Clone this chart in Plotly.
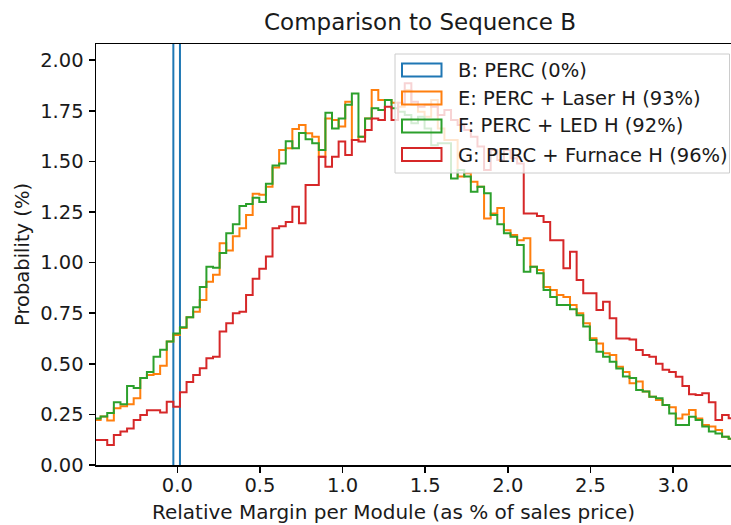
import numpy as np
import plotly.graph_objects as go

# ---- data (bin heights in %, bins of width 0.04 starting at -0.504) ----
bin_start = -0.504
bin_width = 0.04

b_perc = [100.0]          # single bin
b_start = -0.024

e_laser = [0.222, 0.24, 0.22, 0.28, 0.29, 0.30, 0.33, 0.43, 0.445, 0.45, 0.49, 0.61,
           0.642, 0.677, 0.73, 0.757, 0.815, 0.905, 0.94, 1.095, 1.06, 1.13, 1.17, 1.235,
           1.34, 1.335, 1.375, 1.47, 1.556, 1.565, 1.66, 1.68, 1.639, 1.622, 1.523, 1.712,
           1.704, 1.672, 1.795, 1.606, 1.622, 1.712, 1.853, 1.803, 1.803, 1.79, 1.77, 1.853,
           1.78, 1.745, 1.72, 1.803, 1.663, 1.606, 1.606, 1.425, 1.441, 1.4, 1.375, 1.218,
           1.243, 1.27, 1.16, 1.136, 1.111, 1.12, 0.98, 0.963, 0.88, 0.865, 0.84, 0.83,
           0.79, 0.75, 0.70, 0.626, 0.60, 0.552, 0.543, 0.486, 0.46, 0.404, 0.412, 0.363,
           0.337, 0.321, 0.296, 0.285, 0.23, 0.25, 0.272, 0.23, 0.198, 0.19, 0.173, 0.14, 0.13]

f_led = [0.23, 0.24, 0.257, 0.31, 0.30, 0.39, 0.38, 0.43, 0.46, 0.535, 0.57, 0.61,
         0.65, 0.68, 0.73, 0.78, 0.88, 0.98, 0.975, 1.047, 1.145, 1.19, 1.28, 1.29,
         1.32, 1.30, 1.39, 1.48, 1.49, 1.60, 1.565, 1.64, 1.61, 1.59, 1.556, 1.74,
         1.663, 1.712, 1.78, 1.836, 1.622, 1.712, 1.762, 1.754, 1.803, 1.762, 1.745, 1.729,
         1.688, 1.72, 1.663, 1.58, 1.59, 1.59, 1.416, 1.457, 1.425, 1.35, 1.375, 1.342,
         1.235, 1.19, 1.145, 1.128, 1.087, 0.955, 0.98, 0.947, 0.865, 0.83, 0.79, 0.79,
         0.77, 0.74, 0.684, 0.618, 0.56, 0.535, 0.51, 0.477, 0.437, 0.43, 0.37, 0.363,
         0.337, 0.33, 0.296, 0.255, 0.198, 0.198, 0.239, 0.222, 0.19, 0.165, 0.156, 0.14, 0.13]

g_furnace = [0.124, 0.124, 0.099, 0.148, 0.165, 0.18, 0.222, 0.247, 0.27, 0.27, 0.26, 0.313,
             0.288, 0.36, 0.41, 0.445, 0.478, 0.527, 0.535, 0.66, 0.70, 0.75, 0.757, 0.84,
             0.92, 0.97, 1.03, 1.17, 1.18, 1.20, 1.276, 1.195, 1.383, 1.383, 1.523, 1.474,
             1.523, 1.598, 1.532, 1.606, 1.598, 1.655, 1.712, 1.704, 1.77, 1.704, 1.79, 1.886,
             1.795, 1.77, 1.78, 1.77, 1.729, 1.754, 1.704, 1.68, 1.655, 1.622, 1.573, 1.457,
             1.556, 1.507, 1.556, 1.515, 1.49, 1.243, 1.243, 1.23, 1.20, 1.111, 1.111, 0.972,
             1.054, 0.914, 0.848, 0.848, 0.766, 0.807, 0.725, 0.625, 0.625, 0.62, 0.568, 0.544,
             0.535, 0.50, 0.47, 0.46, 0.436, 0.39, 0.35, 0.346, 0.354, 0.31, 0.222, 0.247, 0.231]

labels = ["B: PERC (0%)", "E: PERC + Laser H (93%)", "F: PERC + LED H (92%)",
          "G: PERC + Furnace H (96%)"]
colors = ["#1f77b4", "#ff7f0e", "#2ca02c", "#d62728"]

x_ticks = [0.0, 0.5, 1.0, 1.5, 2.0, 2.5, 3.0]
y_ticks = [0.0, 0.25, 0.5, 0.75, 1.0, 1.25, 1.5, 1.75, 2.0]


def step_xy(start, width, vals):
    edges = start + width * np.arange(len(vals) + 1)
    xs, ys = [edges[0]], [0.0]
    for i, v in enumerate(vals):
        xs += [edges[i], edges[i + 1]]
        ys += [v, v]
    xs.append(edges[-1])
    ys.append(0.0)
    return xs, ys


series = [(b_start, b_perc), (bin_start, e_laser), (bin_start, f_led), (bin_start, g_furnace)]

fig = go.Figure()
for (st, vals), lab, col in zip(series, labels, colors):
    xs, ys = step_xy(st, bin_width, vals)
    fig.add_trace(go.Scatter(x=xs, y=ys, mode="lines", name=lab,
                             line=dict(color=col, width=2), showlegend=False,
                             hoverinfo="skip"))

FONT = "DejaVu Sans"
TXT = "#1a1a1a"
FS = 19.5

# plot area in pixels
L, R, T, B = 96, 731, 44, 465
W, H = R - L, B - T


def px(x):
    return (x - L) / W


def py(y):
    return (B - y) / H


shapes = []
annotations = []
# legend box
shapes.append(dict(type="rect", xref="paper", yref="paper", layer="above",
                   x0=px(395), x1=px(729.5), y0=py(173), y1=py(54),
                   fillcolor="rgba(255,255,255,0.8)", line=dict(color="#cccccc", width=1)))
patch_y = [(63.5, 76.5), (91.5, 104.5), (119.5, 132.5), (148, 161)]
text_y = [70, 98, 126, 155]
for (y0, y1), ty, lab, col in zip(patch_y, text_y, labels, colors):
    shapes.append(dict(type="rect", xref="paper", yref="paper", layer="above",
                       x0=px(402), x1=px(441.5), y0=py(y1), y1=py(y0),
                       fillcolor="rgba(0,0,0,0)", line=dict(color=col, width=2)))
    annotations.append(dict(text=lab, xref="paper", yref="paper", x=px(456), y=py(ty),
                            xanchor="left", yanchor="middle", showarrow=False,
                            font=dict(family=FONT, size=FS, color=TXT)))

# title and axis labels
annotations.append(dict(text="Comparison to Sequence B", xref="paper", yref="paper",
                        x=px(420), y=py(22), xanchor="center", yanchor="middle",
                        showarrow=False, font=dict(family=FONT, size=23, color=TXT)))
annotations.append(dict(text="Relative Margin per Module (as % of sales price)",
                        xref="paper", yref="paper", x=px(393), y=py(512),
                        xanchor="center", yanchor="middle", showarrow=False,
                        font=dict(family=FONT, size=20, color=TXT)))
annotations.append(dict(text="Probability (%)", xref="paper", yref="paper",
                        x=px(22), y=py(255), xanchor="center", yanchor="middle",
                        textangle=-90, showarrow=False,
                        font=dict(family=FONT, size=FS, color=TXT)))

fig.update_layout(
    width=731, height=525,
    margin=dict(l=L, r=731 - R, t=T, b=525 - B),
    paper_bgcolor="white", plot_bgcolor="white",
    font=dict(family=FONT, size=FS, color=TXT),
    shapes=shapes, annotations=annotations,
    showlegend=False,
)
fig.update_xaxes(range=[-0.492, 3.35], tickvals=x_ticks,
                 ticktext=[f"{v:.1f}" for v in x_ticks],
                 ticks="outside", ticklen=6, tickwidth=1.5, tickcolor="black",
                 ticklabelstandoff=-4,
                 showline=True, linecolor="black", linewidth=1.5, mirror=True,
                 showgrid=False, zeroline=False)
fig.update_yaxes(range=[0, 2.08], tickvals=y_ticks,
                 ticktext=[f"{v:.2f}" for v in y_ticks],
                 ticks="outside", ticklen=6, tickwidth=1.5, tickcolor="black",
                 ticklabelstandoff=1,
                 showline=True, linecolor="black", linewidth=1.5, mirror=False,
                 showgrid=False, zeroline=False)

fig.write_html("out.html",
               config={"displayModeBar": False, "staticPlot": True},
               post_script="document.body.style.margin='0';"
                           "document.body.style.overflow='hidden';")
